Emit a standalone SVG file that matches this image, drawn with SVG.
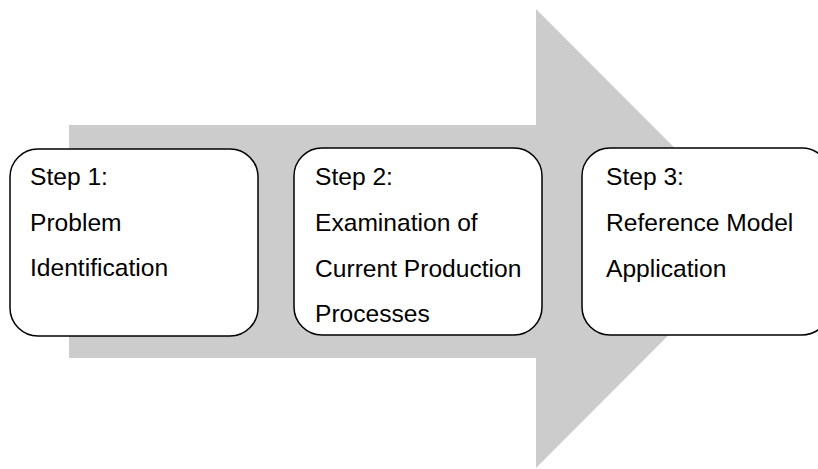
<svg xmlns="http://www.w3.org/2000/svg" width="818" height="469" viewBox="0 0 818 469">
  <style>
    .box { fill: #ffffff; stroke: #000000; stroke-width: 1.5; }
    .label { font-family: "Liberation Sans", Arial, sans-serif; font-size: 24.6px; fill: #000000; }
  </style>
  <rect x="0" y="0" width="818" height="469" fill="#ffffff"/>
  <!-- Background process arrow -->
  <polygon points="69,125 536,125 536,9 765,238.5 536,468 536,358 69,358" fill="#cccccc"/>
  <g id="step1">
    <rect class="box" x="10" y="149" width="248" height="187" rx="28" ry="28"/>
    <text class="label" x="30" y="185">Step 1:</text>
    <text class="label" x="30" y="231">Problem</text>
    <text class="label" x="30" y="276">Identification</text>
  </g>
  <g id="step2">
    <rect class="box" x="294" y="148" width="248" height="187" rx="28" ry="28"/>
    <text class="label" x="315" y="185">Step 2:</text>
    <text class="label" x="315" y="231">Examination of</text>
    <text class="label" x="315" y="277">Current Production</text>
    <text class="label" x="315" y="322">Processes</text>
  </g>
  <g id="step3">
    <rect class="box" x="582" y="148" width="248" height="187" rx="28" ry="28"/>
    <text class="label" x="606" y="185">Step 3:</text>
    <text class="label" x="606" y="231">Reference Model</text>
    <text class="label" x="606" y="277">Application</text>
  </g>
  <g id="connectors"></g>
</svg>
